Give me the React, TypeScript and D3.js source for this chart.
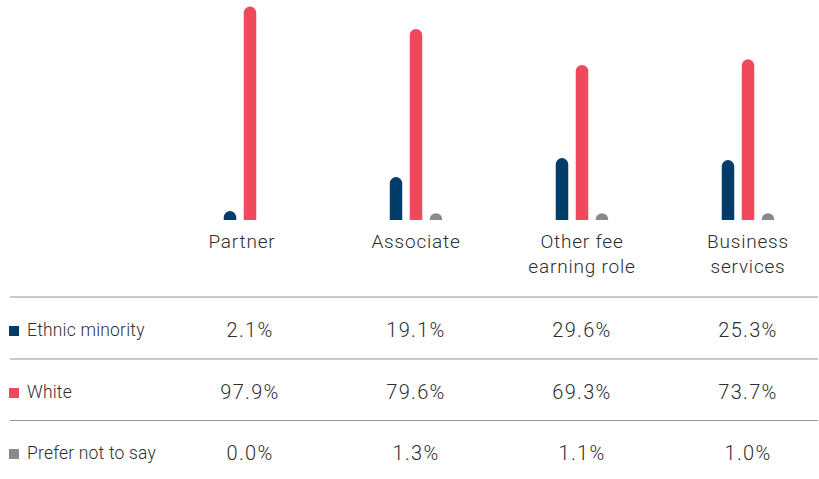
import React from "react";
import * as d3 from "d3";

const categories: string[][] = [["Partner"], ["Associate"], ["Other fee", "earning role"], ["Business", "services"]];
const seriesNames = ["Ethnic minority", "White", "Prefer not to say"];
const seriesColors = ["#023d6a", "#f0495d", "#8a8a8e"];

// table values (%)
const ethnicMinority = [2.1, 19.1, 29.6, 25.3];
const white = [97.9, 79.6, 69.3, 73.7];
const preferNotToSay = [0.0, 1.3, 1.1, 1.0];

// bar heights as drawn in the picture (% scale)
const barEthnic = [4.1, 19.7, 28.4, 27.5];
const barWhite = [97.9, 87.6, 71.1, 73.7];
const barPrefer = [0, 3.1, 3.1, 3.1];

const W = 819;
const H = 479;

export default function App() {
  const keys = categories.map((c) => c.join(" "));
  const x = d3.scalePoint<string>().domain(keys).range([250, 748]);
  const y = d3.scaleLinear().domain([0, 100]).range([220, 2]);
  const barW = 12.5;
  const gap = 20;
  const tableValues = [ethnicMinority, white, preferNotToSay];
  const barValues = [barEthnic, barWhite, barPrefer];
  const rowBaselines = [336, 398, 459];
  const lineYs = [297, 359, 420.5];
  const font = "Roboto, 'Liberation Sans', Arial, sans-serif";

  const barPath = (cx: number, v: number) => {
    const top = y(v);
    const base = y(0);
    const h = base - top;
    if (h <= 0) return "";
    const r = Math.min(barW / 2, h);
    const x0 = cx - barW / 2;
    const p = d3.path();
    p.moveTo(x0, base);
    p.lineTo(x0, top + r);
    p.arcTo(x0, top, x0 + barW / 2, top, r);
    p.arcTo(x0 + barW, top, x0 + barW, top + r, r);
    p.lineTo(x0 + barW, base);
    p.closePath();
    return p.toString();
  };

  return (
    <>
      <style>{`body{margin:0}`}</style>
      <svg width={W} height={H} style={{ display: "block", background: "#fff" }} fontFamily={font} fontWeight={300}>
        {keys.map((k, i) => (
          <g key={k}>
            {barValues.map((arr, s) => (
              <path key={s} d={barPath((x(k) as number) + (s - 1) * gap, arr[i])} fill={seriesColors[s]} />
            ))}
            {categories[i].map((line, li) => (
              <text
                key={li}
                x={(x(k) as number) - (i === 0 ? 8 : 0)}
                y={248 + li * 24.5}
                textAnchor="middle"
                fontSize={19}
                letterSpacing={0.8}
                fill="#2e2e2e"
              >
                {line}
              </text>
            ))}
          </g>
        ))}
        {lineYs.map((ly, i) => (
          <line key={i} x1={10} x2={818} y1={ly} y2={ly} stroke="#959595" strokeWidth={1.2} />
        ))}
        {seriesNames.map((name, s) => (
          <g key={name}>
            <rect x={9} y={rowBaselines[s] - 10} width={10} height={10} fill={seriesColors[s]} />
            <text x={27} y={rowBaselines[s]} fontSize={17.5} letterSpacing={0.2} fill="#2e2e2e">
              {name}
            </text>
            {keys.map((k, i) => (
              <text
                key={k}
                x={x(k)}
                y={rowBaselines[s] + 1}
                textAnchor="middle"
                fontSize={20}
                letterSpacing={1.3}
                fill="#2e2e2e"
              >
                {d3.format(".1f")(tableValues[s][i]) + "%"}
              </text>
            ))}
          </g>
        ))}
      </svg>
    </>
  );
}
